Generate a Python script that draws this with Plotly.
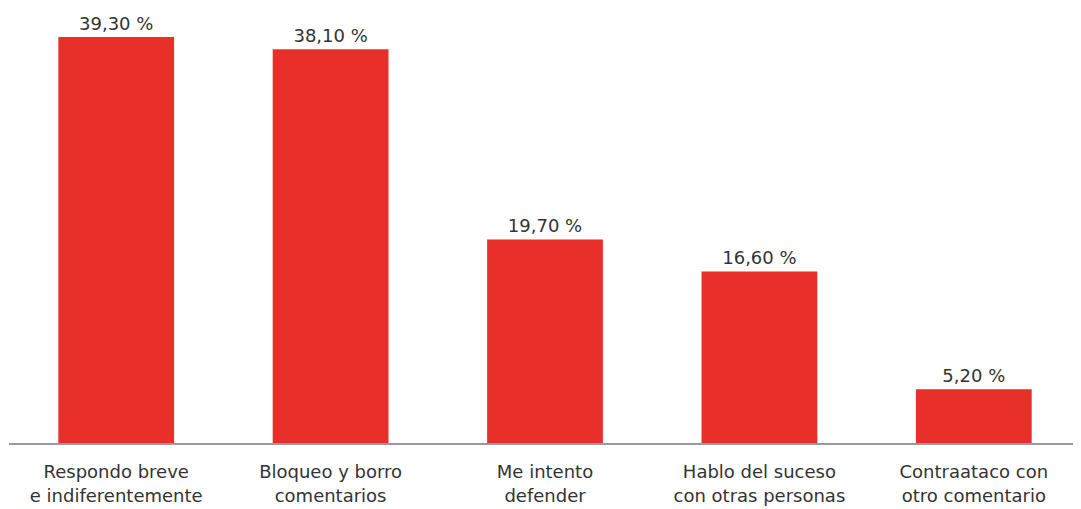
import plotly.graph_objects as go

categories = [
    "Respondo breve<br>e indiferentemente",
    "Bloqueo y borro<br>comentarios",
    "Me intento<br>defender",
    "Hablo del suceso<br>con otras personas",
    "Contraataco con<br>otro comentario",
]
values = [39.3, 38.1, 19.7, 16.6, 5.2]

labels = [f"{v:.2f}".replace(".", ",") + " %" for v in values]

FONT = "DejaVu Sans"

fig = go.Figure(go.Bar(
    x=categories,
    y=values,
    text=labels,
    textposition="outside",
    cliponaxis=False,
    marker=dict(color="#E92F29", line=dict(width=0)),
    textfont=dict(family=FONT, size=18, color="#333333"),
    hoverinfo="skip",
))

# page body adds an 8px offset, so the figure is sized to fit the window
fig.update_layout(
    width=1073, height=501,
    margin=dict(l=1, r=0, t=0, b=66, autoexpand=False),
    paper_bgcolor="white",
    plot_bgcolor="white",
    bargap=0.46,
    showlegend=False,
    xaxis=dict(
        automargin=False,
        showline=True, linecolor="#9a9a9a", linewidth=1.5,
        showgrid=False, ticks="",
        ticklabelstandoff=12,
        tickfont=dict(family=FONT, size=18, color="#333333"),
    ),
    yaxis=dict(
        range=[0, 42.1], visible=False, showgrid=False, zeroline=False,
    ),
)

fig.write_html("out.html")
